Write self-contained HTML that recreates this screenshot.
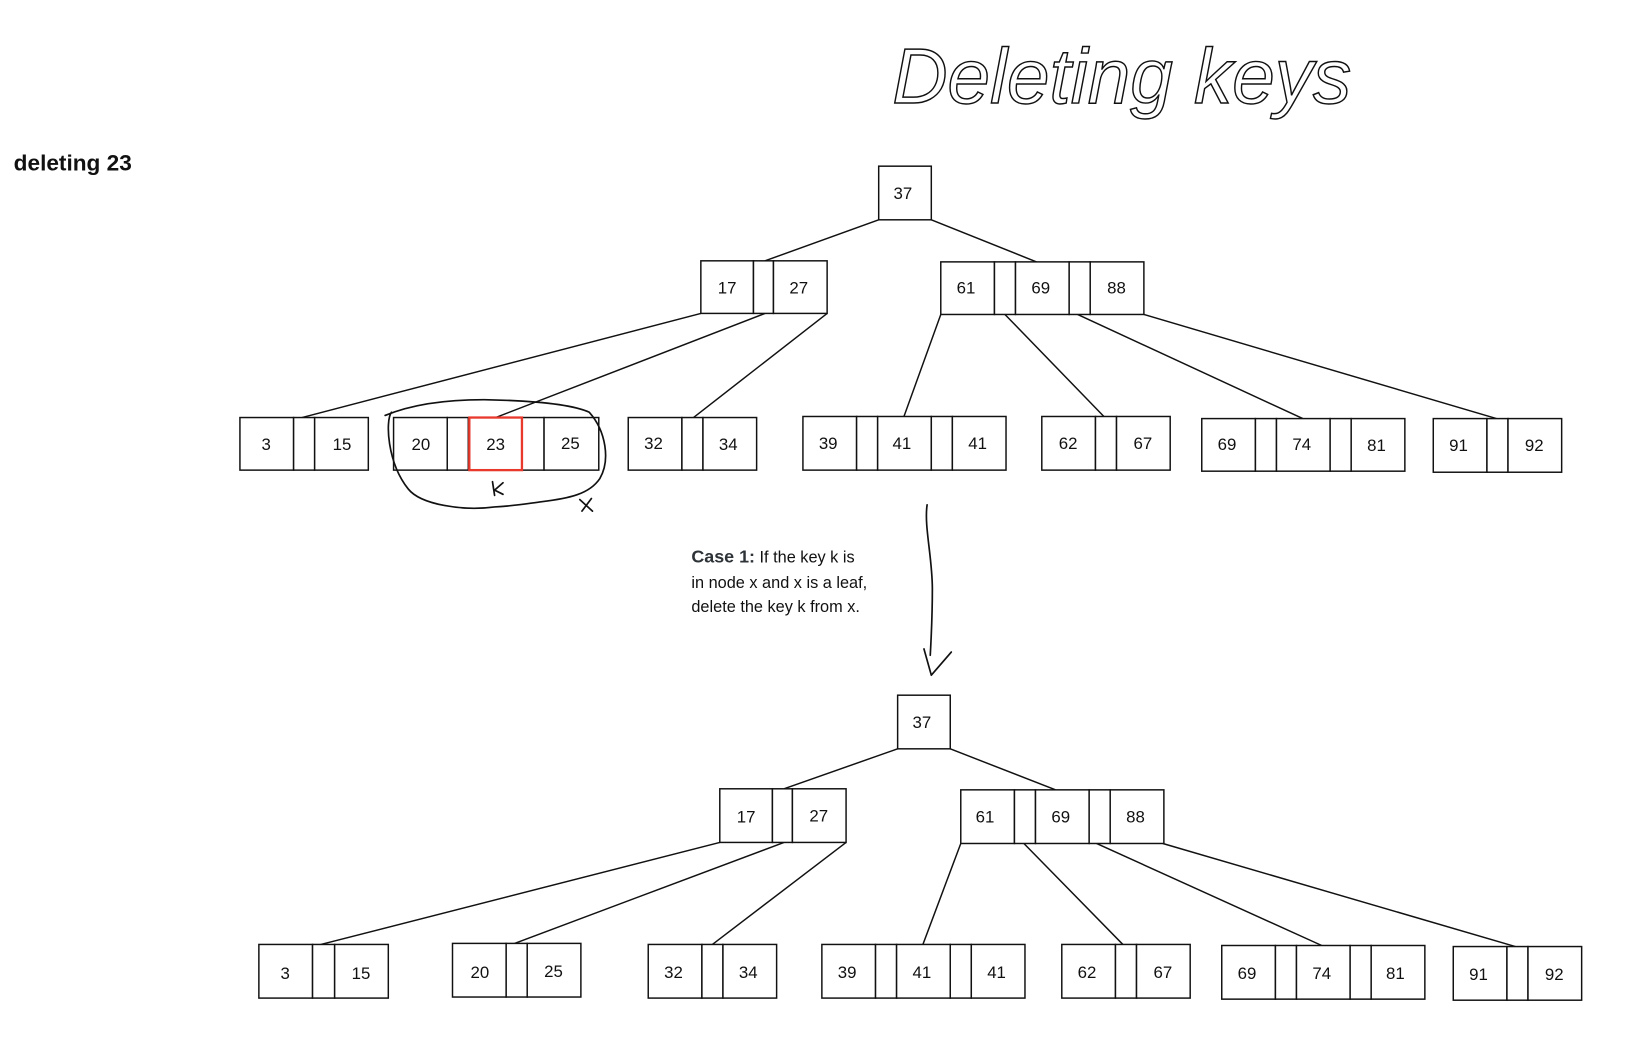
<!DOCTYPE html>
<html><head><meta charset="utf-8"><style>
html,body{margin:0;padding:0;background:#fff;}
svg{display:block;}
text{font-family:"Liberation Sans",sans-serif;}
</style></head><body>
<svg width="1649" height="1037" viewBox="0 0 1567 986" preserveAspectRatio="none" xmlns="http://www.w3.org/2000/svg">
<g fill="none" stroke="#111" stroke-width="1.4">
<line x1="835" y1="209" x2="727" y2="248"/><line x1="885" y1="209" x2="985" y2="249"/>
<line x1="666" y1="298" x2="287" y2="397"/><line x1="727" y1="298" x2="471" y2="397"/><line x1="786" y1="298" x2="659" y2="397"/>
<line x1="894" y1="299" x2="859" y2="396"/><line x1="955" y1="299" x2="1049" y2="396"/><line x1="1024" y1="299" x2="1238" y2="398"/><line x1="1087" y1="299" x2="1422" y2="398"/>
<line x1="853" y1="712" x2="745" y2="750"/><line x1="903" y1="712" x2="1003" y2="751"/>
<line x1="684" y1="801" x2="305" y2="898"/><line x1="745" y1="801" x2="489" y2="897"/><line x1="804" y1="801" x2="677" y2="898"/>
<line x1="913" y1="802" x2="877" y2="898"/><line x1="973" y1="802" x2="1067" y2="898"/><line x1="1042" y1="802" x2="1256" y2="899"/><line x1="1105" y1="802" x2="1440" y2="900"/>
</g>
<g fill="#fff" stroke="#111" stroke-width="1.4">
<rect x="835" y="158" width="50" height="51"/>
<rect x="666" y="248" width="50" height="50"/><rect x="716" y="248" width="19" height="50"/><rect x="735" y="248" width="51" height="50"/>
<rect x="894" y="249" width="51" height="50"/><rect x="945" y="249" width="20" height="50"/><rect x="965" y="249" width="51" height="50"/><rect x="1016" y="249" width="20" height="50"/><rect x="1036" y="249" width="51" height="50"/>
<rect x="228" y="397" width="51" height="50"/><rect x="279" y="397" width="20" height="50"/><rect x="299" y="397" width="51" height="50"/>
<rect x="374" y="397" width="51" height="50"/><rect x="425" y="397" width="20" height="50"/><rect x="496" y="397" width="21" height="50"/><rect x="517" y="397" width="52" height="50"/>
<rect x="597" y="397" width="51" height="50"/><rect x="648" y="397" width="20" height="50"/><rect x="668" y="397" width="51" height="50"/>
<rect x="763" y="396" width="51" height="51"/><rect x="814" y="396" width="20" height="51"/><rect x="834" y="396" width="51" height="51"/><rect x="885" y="396" width="20" height="51"/><rect x="905" y="396" width="51" height="51"/>
<rect x="990" y="396" width="51" height="51"/><rect x="1041" y="396" width="20" height="51"/><rect x="1061" y="396" width="51" height="51"/>
<rect x="1142" y="398" width="51" height="50"/><rect x="1193" y="398" width="20" height="50"/><rect x="1213" y="398" width="51" height="50"/><rect x="1264" y="398" width="20" height="50"/><rect x="1284" y="398" width="51" height="50"/>
<rect x="1362" y="398" width="51" height="51"/><rect x="1413" y="398" width="20" height="51"/><rect x="1433" y="398" width="51" height="51"/>
<rect x="853" y="661" width="50" height="51"/>
<rect x="684" y="750" width="50" height="51"/><rect x="734" y="750" width="19" height="51"/><rect x="753" y="750" width="51" height="51"/>
<rect x="913" y="751" width="51" height="51"/><rect x="964" y="751" width="20" height="51"/><rect x="984" y="751" width="51" height="51"/><rect x="1035" y="751" width="20" height="51"/><rect x="1055" y="751" width="51" height="51"/>
<rect x="246" y="898" width="51" height="51"/><rect x="297" y="898" width="21" height="51"/><rect x="318" y="898" width="51" height="51"/>
<rect x="430" y="897" width="51" height="51"/><rect x="481" y="897" width="20" height="51"/><rect x="501" y="897" width="51" height="51"/>
<rect x="616" y="898" width="51" height="51"/><rect x="667" y="898" width="20" height="51"/><rect x="687" y="898" width="51" height="51"/>
<rect x="781" y="898" width="51" height="51"/><rect x="832" y="898" width="20" height="51"/><rect x="852" y="898" width="51" height="51"/><rect x="903" y="898" width="20" height="51"/><rect x="923" y="898" width="51" height="51"/>
<rect x="1009" y="898" width="51" height="51"/><rect x="1060" y="898" width="20" height="51"/><rect x="1080" y="898" width="51" height="51"/>
<rect x="1161" y="899" width="51" height="51"/><rect x="1212" y="899" width="20" height="51"/><rect x="1232" y="899" width="51" height="51"/><rect x="1283" y="899" width="20" height="51"/><rect x="1303" y="899" width="51" height="51"/>
<rect x="1381" y="900" width="51" height="51"/><rect x="1432" y="900" width="20" height="51"/><rect x="1452" y="900" width="51" height="51"/>
</g>
<rect x="446" y="397" width="50" height="50" fill="#fff" stroke="#e8392c" stroke-width="2.2"/>
<g font-size="16" fill="#111" text-anchor="middle">
<text x="858" y="189">37</text>
<text x="691" y="279">17</text><text x="759" y="279">27</text>
<text x="918" y="279">61</text><text x="989" y="279">69</text><text x="1061" y="279">88</text>
<text x="253" y="428">3</text><text x="325" y="428">15</text>
<text x="400" y="428">20</text><text x="471" y="428">23</text><text x="542" y="427">25</text>
<text x="621" y="427">32</text><text x="692" y="428">34</text>
<text x="787" y="427">39</text><text x="857" y="427">41</text><text x="929" y="427">41</text>
<text x="1015" y="427">62</text><text x="1086" y="427">67</text>
<text x="1166" y="428">69</text><text x="1237" y="428">74</text><text x="1308" y="429">81</text>
<text x="1386" y="429">91</text><text x="1458" y="429">92</text>
<text x="876" y="692">37</text>
<text x="709" y="782">17</text><text x="778" y="781">27</text>
<text x="936" y="782">61</text><text x="1008" y="782">69</text><text x="1079" y="782">88</text>
<text x="271" y="931">3</text><text x="343" y="931">15</text>
<text x="456" y="930">20</text><text x="526" y="929">25</text>
<text x="640" y="930">32</text><text x="711" y="930">34</text>
<text x="805" y="930">39</text><text x="876" y="930">41</text><text x="947" y="930">41</text>
<text x="1033" y="930">62</text><text x="1105" y="930">67</text>
<text x="1185" y="931">69</text><text x="1256" y="931">74</text><text x="1326" y="931">81</text>
<text x="1405" y="932">91</text><text x="1477" y="932">92</text>
</g>
<g fill="none" stroke="#111" stroke-width="1.6" stroke-linecap="round" stroke-linejoin="round">
<path d="M372 392 C 366 400,368 440,388 465 C 400 480,440 486,470 482 C 490 481,500 479,515 477 C 540 474,560 470,570 455 C 580 438,576 410,560 392 C 545 385,510 381,460 380 C 420 380,390 385,366 395"/>
<path d="M468 458 L470 471 M478 459 L470 466 L478 470"/>
<path d="M551 475 L563 486 M562 474 L553 486"/>
<path d="M881 480 C 878 500,886 530,886 560 C 886 585,885 605,884 623"/>
<path d="M878 617 L885 642 L904 620"/>
</g>
<text x="848" y="98" font-size="74" fill="none" stroke="#111" stroke-width="1.4" textLength="436" lengthAdjust="spacingAndGlyphs" font-style="italic">Deleting keys</text>
<text x="13" y="162" font-size="21.5" font-weight="bold" fill="#111">deleting 23</text>
<g font-size="15.5" fill="#111">
<text x="657" y="535"><tspan font-weight="bold" fill="#2e3338" font-size="17">Case 1:</tspan> If the key k is</text>
<text x="657" y="559">in node x and x is a leaf,</text>
<text x="657" y="582">delete the key k from x.</text>
</g>
</svg>
</body></html>
